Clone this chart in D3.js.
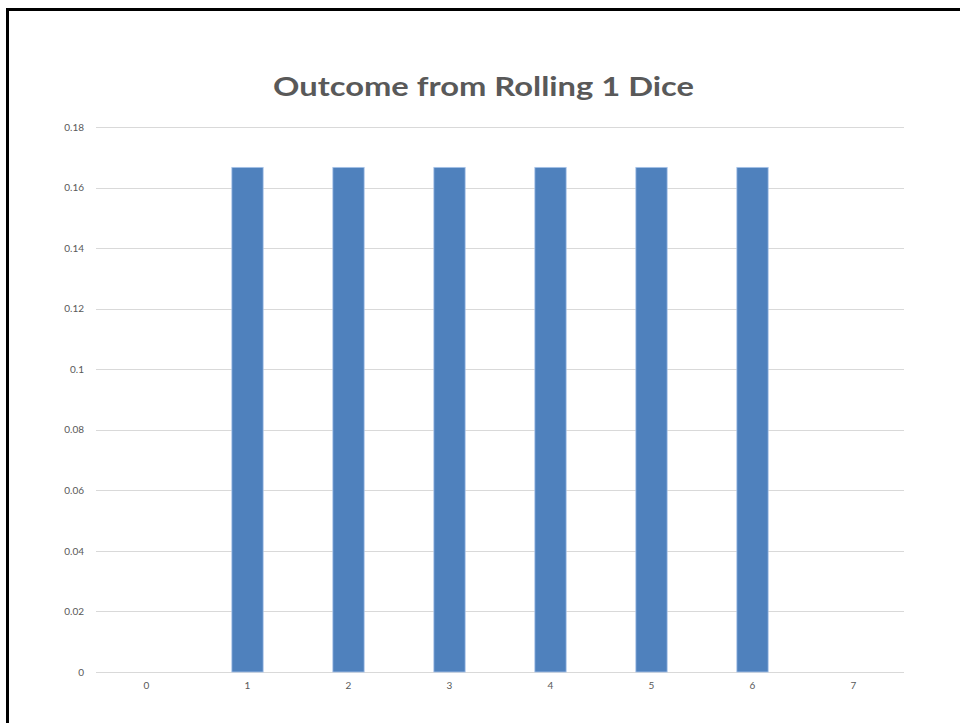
<!DOCTYPE html>
<html>
<head>
<meta charset="utf-8">
<script src="https://cdn.jsdelivr.net/npm/d3@7"></script>
<style>
  html, body { margin: 0; padding: 0; background: #fff; }
  svg { display: block; }
</style>
</head>
<body>
<script>
// Outcome probabilities for a single fair die
const categories = ["0", "1", "2", "3", "4", "5", "6", "7"];
const probabilities = [0, 1/6, 1/6, 1/6, 1/6, 1/6, 1/6, 0];
const yTicks = [0, 0.02, 0.04, 0.06, 0.08, 0.1, 0.12, 0.14, 0.16, 0.18];
const chartTitle = "Outcome from Rolling 1 Dice";

const W = 960, H = 723;
const margin = { left: 96, right: 56, top: 127, bottom: 51 };
const fontFamily = "Lato, 'Open Sans', sans-serif";

const svg = d3.select("body").append("svg")
  .attr("width", W).attr("height", H);

// Slide frame (left and top edges visible)
svg.append("rect")
  .attr("x", 7.5).attr("y", 9.5)
  .attr("width", W + 20).attr("height", H + 20)
  .attr("fill", "none").attr("stroke", "#000").attr("stroke-width", 3);

const x = d3.scaleBand()
  .domain(categories)
  .range([margin.left, W - margin.right])
  .paddingInner(0.69).paddingOuter(0.345);

const y = d3.scaleLinear()
  .domain([0, 0.18])
  .range([H - margin.bottom, margin.top]);

// Horizontal gridlines
svg.append("g")
  .selectAll("line")
  .data(yTicks)
  .join("line")
  .attr("x1", margin.left).attr("x2", W - margin.right)
  .attr("y1", d => Math.round(y(d)) + 0.5).attr("y2", d => Math.round(y(d)) + 0.5)
  .attr("stroke", "#d9d9d9").attr("stroke-width", 1);

// Y axis labels
const yAxis = d3.axisLeft(y).tickValues(yTicks).tickSize(0).tickPadding(0)
  .tickFormat(d => d3.format("")(+d.toFixed(2)));
svg.append("g")
  .attr("transform", `translate(${margin.left - 12},0)`)
  .call(yAxis)
  .call(g => g.select(".domain").remove())
  .call(g => g.selectAll("text")
    .attr("fill", "#595959")
    .style("font-family", fontFamily)
    .style("font-size", "10px"));

// X axis labels
const xAxis = d3.axisBottom(x).tickSize(0).tickPadding(0);
svg.append("g")
  .attr("transform", `translate(0,${H - margin.bottom + 10})`)
  .call(xAxis)
  .call(g => g.select(".domain").remove())
  .call(g => g.selectAll("text")
    .attr("fill", "#595959")
    .style("font-family", fontFamily)
    .style("font-size", "10px"));

// Bars
svg.append("g")
  .selectAll("rect")
  .data(categories.map((c, i) => ({ c, v: probabilities[i] })).filter(d => d.v > 0))
  .join("rect")
  .attr("x", d => x(d.c))
  .attr("y", d => y(d.v))
  .attr("width", x.bandwidth())
  .attr("height", d => y(0) - y(d.v))
  .attr("fill", "#4f81bd")
  .attr("stroke", "#a9c4e8")
  .attr("stroke-width", 0.8);

// Title
svg.append("text")
  .attr("x", 483.5).attr("y", 96)
  .attr("text-anchor", "middle")
  .attr("fill", "#595959")
  .style("font-family", fontFamily)
  .style("font-weight", "bold")
  .style("font-size", "26px")
  .attr("textLength", 421)
  .attr("lengthAdjust", "spacingAndGlyphs")
  .text(chartTitle);
</script>
</body>
</html>
